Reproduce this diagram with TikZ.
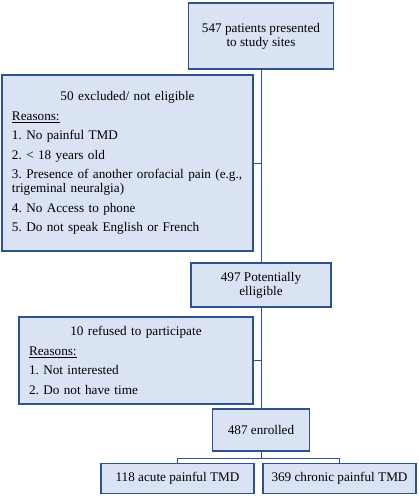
\documentclass[tikz,border=0pt]{standalone}
\usepackage{fontspec}
\setmainfont{Liberation Serif}
\definecolor{flowfill}{rgb}{0.854902, 0.890196, 0.952941}
\definecolor{flowline}{rgb}{0.184314, 0.321569, 0.560784}

\begin{document}
\begin{tikzpicture}[x=1pt, y=-1pt, font=\fontsize{13.2}{14}\selectfont\frenchspacing,
        box/.style={draw=flowline, line width=1.2pt, fill=flowfill, inner sep=0pt, align=center},
        reasons/.style={box, align=left, inner xsep=10pt, execute at begin node={\setlength{\parskip}{5.5pt}}},
        link/.style={draw=flowline, line width=0.8pt}]
        \useasboundingbox (0,0) rectangle (418,500);

        \node [box, minimum width=145pt, minimum height=66pt] (B1) at (261, 36) {547 patients presented\\to study sites};
        \node [reasons, text width=231pt, minimum height=176pt] (B2) at (127.5, 163) {{\centering 50 excluded/ not eligible\par}
            \underline{Reasons:}\par
            1. No painful TMD\par
            2. < 18 years old\par
            3. Presence of another orofacial pain (e.g.,\newline trigeminal neuralgia)\par
            4. No Access to phone\par
            5. Do not speak English or French};
        \node [box, minimum width=140pt, minimum height=44pt] (B3) at (261, 285) {497 Potentially\\elligible};
        \node [reasons, text width=214pt, minimum height=87pt] (B4) at (136, 360.5) {{\centering 10 refused to participate\par}
            \underline{Reasons:}\par
            1. Not interested\par
            2. Do not have time};
        \node [box, minimum width=97pt, minimum height=42pt] (B5) at (261, 430) {487 enrolled};
        \node [box, minimum width=153pt, minimum height=30pt] (B6) at (177.5, 478.5) {118 acute painful TMD};
        \node [box, minimum width=153pt, minimum height=30pt] (B7) at (339.5, 478.5) {369 chronic painful TMD};

        \draw [link] (B1) -- (B3);
        \draw [link] (B3) -- (B5);
        \draw [link] (B2.east) -- (B2.east -| B1.south);
        \draw [link] (B4.east) -- (B4.east -| B1.south);
        \draw [link] (B5.south) -- ++(0, 7) -| (B6.north);
        \draw [link] (B5.south) -- ++(0, 7) -| (B7.north);
    \end{tikzpicture}
\end{document}
